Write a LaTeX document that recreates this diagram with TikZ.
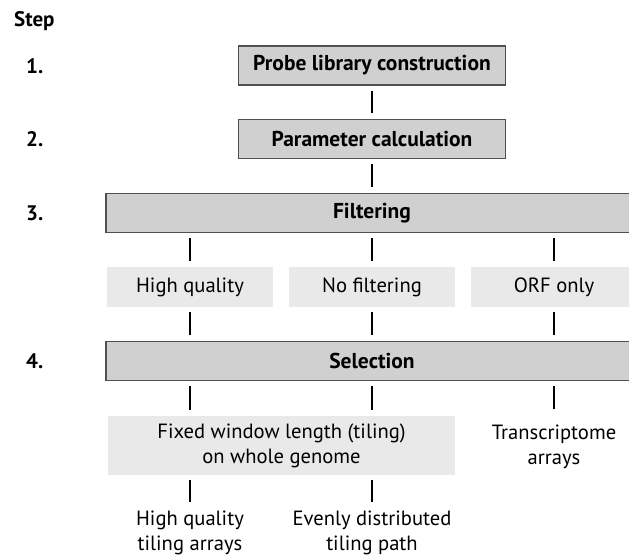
\documentclass[tikz,border=0pt]{standalone}
\usepackage{fontspec}
\setmainfont{PT Sans}

\definecolor{boxdark}{RGB}{208,208,208}
\definecolor{boxlite}{RGB}{233,233,233}
\definecolor{boxline}{RGB}{80,80,80}
\newcommand{\diafont}{\fontsize{20.6}{25}\selectfont}

\tikzset{
	darkbox/.style={draw=boxline, fill=boxdark, line width=1.3pt, minimum height=39pt, font=\fontsize{21.5}{25}\selectfont\bfseries},
	litebox/.style={fill=boxlite, minimum height=40pt, font=\diafont, align=center},
	plaintext/.style={inner sep=0pt, font=\diafont, align=center},
	stepnum/.style={font=\fontsize{21}{24}\selectfont\bfseries, anchor=west, inner sep=0pt},
	link/.style={line width=1.9pt, shorten <=5pt, shorten >=6pt}
}

\begin{document}
\begin{tikzpicture}[x=1pt,y=-1pt]
	\useasboundingbox (0,0) rectangle (629,556);
	\clip (0,0) rectangle (629,556);
	
	\node[stepnum] (step) at (14,21) {Step};
	\node[stepnum] (n1) at (26,66) {1.};
	\node[stepnum] (n2) at (26,139) {2.};
	\node[stepnum] (n3) at (26,213) {3.};
	\node[stepnum] (n4) at (26,361) {4.};
	
	\node[darkbox, minimum width=267pt] (probe) at (372,65.5) {Probe library construction};
	\node[darkbox, minimum width=267pt] (param) at (372,139) {Parameter calculation};
	\node[darkbox, minimum width=532pt] (filt) at (372,213) {Filtering};
	
	\node[litebox, minimum width=166pt] (hq) at (190,287) {High quality};
	\node[litebox, minimum width=166pt] (nofilt) at (372,287) {No filtering};
	\node[litebox, minimum width=166pt] (orf) at (554,287) {ORF only};
	
	\node[darkbox, minimum width=532pt] (sel) at (372,361) {Selection};
	
	\node[litebox, minimum width=347pt, minimum height=59pt] (fixed) at (281.5,445.5) {Fixed window length (tiling)\\on whole genome};
	\node[plaintext, anchor=north] (trans) at (554,424.5) {Transcriptome\\arrays};
	\node[plaintext, anchor=south] (hqta) at (190,555.5) {High quality\\tiling arrays};
	\node[plaintext, anchor=south] (edtp) at (372,555.5) {Evenly distributed\\tiling path};
	
	\draw[link] (probe) -- (param);
	\draw[link] (param) -- (filt);
	\draw[link] (hq |- filt.south) -- (hq);
	\draw[link] (filt) -- (nofilt);
	\draw[link] (orf |- filt.south) -- (orf);
	\draw[link] (hq) -- (hq |- sel.north);
	\draw[link] (nofilt) -- (sel);
	\draw[link] (orf) -- (orf |- sel.north);
	\draw[link] (hq |- sel.south) -- (hq |- fixed.north);
	\draw[link] (nofilt |- sel.south) -- (nofilt |- fixed.north);
	\draw[link, shorten >=16pt] (orf |- sel.south) -- (trans);
	\draw[link, shorten >=9pt] (hq |- fixed.south) -- (hqta);
	\draw[link, shorten >=9pt] (nofilt |- fixed.south) -- (edtp);
	
\end{tikzpicture}
\end{document}
